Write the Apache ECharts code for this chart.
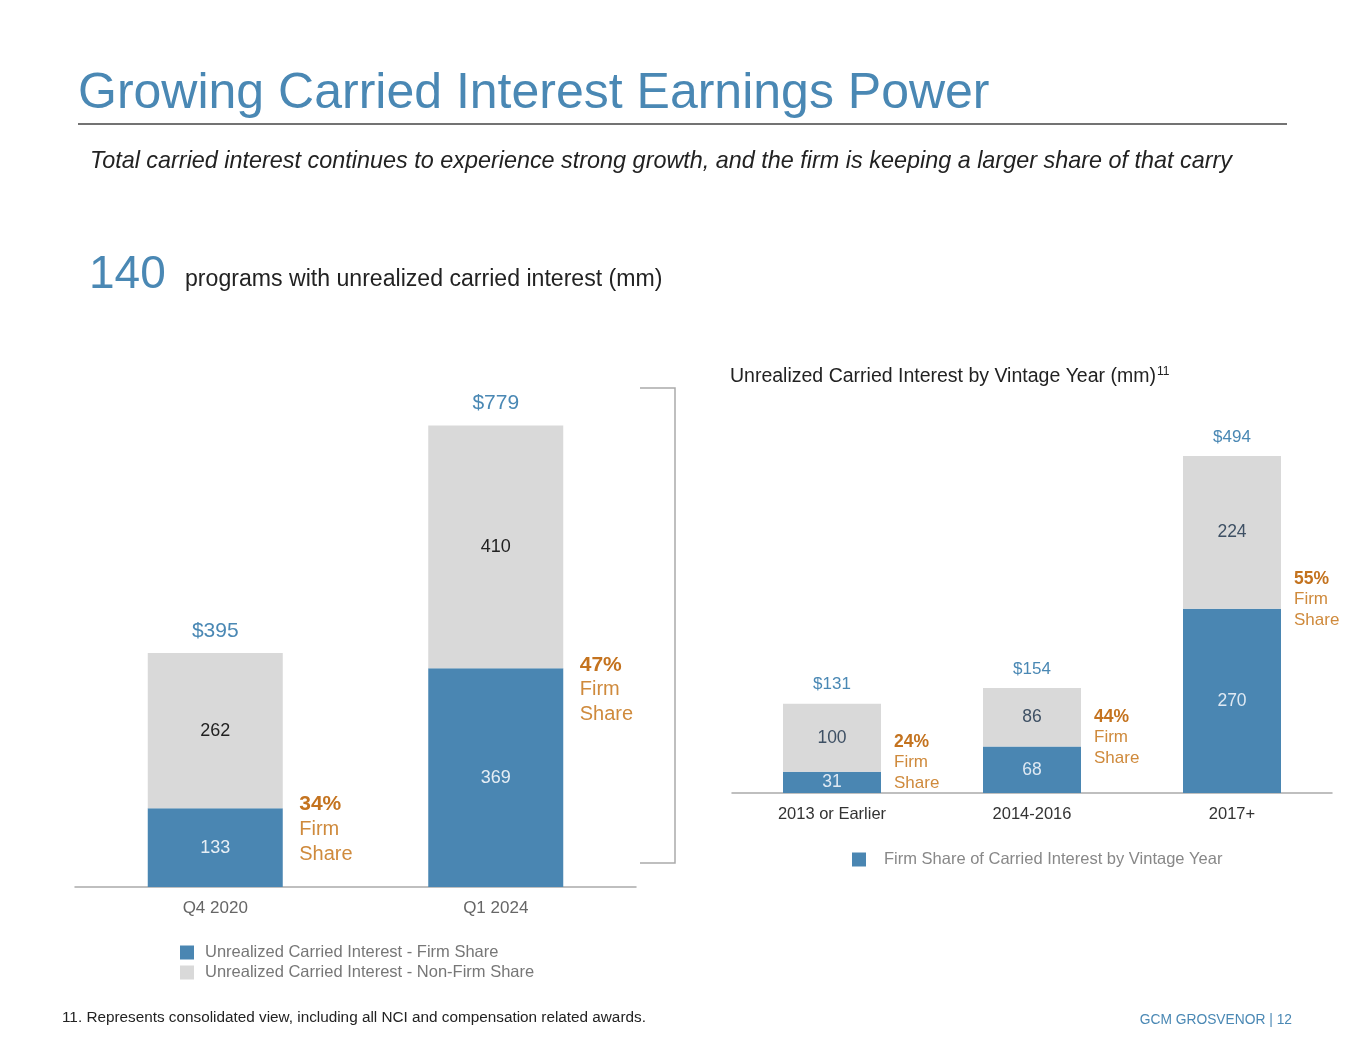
<!DOCTYPE html>
<html><head><meta charset="utf-8">
<script src="https://cdn.jsdelivr.net/npm/echarts@6/dist/echarts.min.js"></script>
<style>html,body{margin:0;padding:0;background:#fff}#c{width:1365px;height:1055px}</style>
</head><body><div id="c"></div>
<script>
// ---- data ----
var leftCategories = ['Q4 2020', 'Q1 2024'];
var leftFirm = [133, 369];
var leftNonFirm = [262, 410];
var leftTotals = [395, 779];
var leftPct = ['34%', '47%'];

var rightCategories = ['2013 or Earlier', '2014-2016', '2017+'];
var rightFirm = [31, 68, 270];
var rightNonFirm = [100, 86, 224];
var rightTotals = [131, 154, 494];
var rightPct = ['24%', '44%', '55%'];

var FONT = 'Liberation Sans';
var BLUE = '#4a86b2';
var GRAY = '#d9d9d9';
var TXTBLUE = '#4a88b4';
var ORANGE = '#c4731f';
var ORANGE_L = '#cf8a3c';

var chart = echarts.init(document.getElementById('c'), null, {renderer: 'canvas'});

var option = {
  animation: false,
  textStyle: {fontFamily: FONT},
  grid: [
    {left: 75, width: 561, top: 413, height: 474},
    {left: 732, width: 600, top: 452, height: 341}
  ],
  xAxis: [
    {type: 'category', gridIndex: 0, data: leftCategories,
     axisLine: {lineStyle: {color: '#aaaaaa', width: 1.5}}, axisTick: {show: false},
     axisLabel: {color: '#666', fontSize: 17, margin: 13, fontFamily: FONT}},
    {type: 'category', gridIndex: 1, data: rightCategories,
     axisLine: {lineStyle: {color: '#aaaaaa', width: 1.5}}, axisTick: {show: false},
     axisLabel: {color: '#333', fontSize: 16.5, margin: 13, fontFamily: FONT}}
  ],
  yAxis: [
    {type: 'value', gridIndex: 0, min: 0, max: 800, show: false, splitLine: {show: false}},
    {type: 'value', gridIndex: 1, min: 0, max: 500, show: false, splitLine: {show: false}}
  ],
  legend: [
    {orient: 'vertical', left: 175, top: 939, itemWidth: 14, itemHeight: 14, itemGap: 3,
     icon: 'rect', selectedMode: false,
     textStyle: {color: '#777', fontSize: 16.5, fontFamily: FONT, padding: [0, 0, 0, 6]},
     data: ['Unrealized Carried Interest - Firm Share', 'Unrealized Carried Interest - Non-Firm Share']},
    {orient: 'horizontal', left: 847, top: 846, itemWidth: 14, itemHeight: 14,
     icon: 'rect', selectedMode: false,
     textStyle: {color: '#888', fontSize: 16.5, fontFamily: FONT, padding: [0, 0, 0, 13]},
     data: ['Firm Share of Carried Interest by Vintage Year']}
  ],
  series: [
    {name: 'Unrealized Carried Interest - Firm Share', type: 'bar', stack: 'L',
     xAxisIndex: 0, yAxisIndex: 0, barWidth: 135, data: leftFirm,
     itemStyle: {color: BLUE},
     label: {show: true, position: 'inside', color: '#e6eef5', fontSize: 18, fontFamily: FONT}},
    {name: 'Unrealized Carried Interest - Non-Firm Share', type: 'bar', stack: 'L',
     xAxisIndex: 0, yAxisIndex: 0, barWidth: 135, data: leftNonFirm,
     itemStyle: {color: GRAY},
     label: {show: true, position: 'inside', color: '#222', fontSize: 18, fontFamily: FONT}},
    {name: 'Firm Share of Carried Interest by Vintage Year', type: 'bar', stack: 'R',
     xAxisIndex: 1, yAxisIndex: 1, barWidth: 98, data: rightFirm,
     itemStyle: {color: BLUE},
     label: {show: true, position: 'inside', color: '#dfe9f3', fontSize: 17.5, fontFamily: FONT}},
    {name: 'Non-Firm Share by Vintage Year', type: 'bar', stack: 'R',
     xAxisIndex: 1, yAxisIndex: 1, barWidth: 98, data: rightNonFirm,
     itemStyle: {color: GRAY},
     label: {show: true, position: 'inside', color: '#3e5064', fontSize: 17.5, fontFamily: FONT}}
  ]
};
chart.setOption(option);

// ---- annotations positioned via the chart's own scales ----
var g = [];
// page text
g.push({type: 'text', left: 78, top: 69, style: {text: 'Growing Carried Interest Earnings Power', font: '50px ' + FONT, fill: TXTBLUE}});
g.push({type: 'line', shape: {x1: 78, y1: 124, x2: 1287, y2: 124}, style: {stroke: '#444', lineWidth: 1.5}});
g.push({type: 'text', left: 90, top: 150, style: {text: 'Total carried interest continues to experience strong growth, and the firm is keeping a larger share of that carry', font: 'italic 23.4px ' + FONT, fill: '#222'}});
g.push({type: 'text', left: 89, top: 252, style: {text: '140', font: '46px ' + FONT, fill: TXTBLUE}});
g.push({type: 'text', left: 185, top: 268, style: {text: 'programs with unrealized carried interest (mm)', font: '23.1px ' + FONT, fill: '#222'}});
g.push({type: 'text', left: 730, top: 366, style: {
  text: '{a|Unrealized Carried Interest by Vintage Year (mm)}{s|11}',
  rich: {a: {fontSize: 19.5, fontFamily: FONT, fill: '#222'},
         s: {fontSize: 12, fontFamily: FONT, fill: '#222', verticalAlign: 'top', padding: [0, 0, 10, 1]}}}});
g.push({type: 'text', left: 62, top: 1010, style: {text: '11. Represents consolidated view, including all NCI and compensation related awards.', font: '15.3px ' + FONT, fill: '#222'}});
g.push({type: 'text', right: 73, top: 1013, style: {text: 'GCM GROSVENOR | 12', font: '13.8px ' + FONT, fill: TXTBLUE}});
// bracket
g.push({type: 'polyline', shape: {points: [[640, 388], [675, 388], [675, 863], [640, 863]]}, style: {stroke: '#aaaaaa', lineWidth: 1.5, fill: null}});

function addTotals(cats, totals, gridIndex, size, dy) {
  cats.forEach(function (c, i) {
    var p = chart.convertToPixel({gridIndex: gridIndex}, [i, totals[i]]);
    g.push({type: 'text', x: p[0], y: p[1] - dy, style: {text: '$' + totals[i], font: size + 'px ' + FONT, fill: TXTBLUE, align: 'center', verticalAlign: 'middle'}});
  });
}
function addPct(cats, firm, pct, gridIndex, dx, dyTop, bsize, size, lh) {
  cats.forEach(function (c, i) {
    var p = chart.convertToPixel({gridIndex: gridIndex}, [i, firm[i]]);
    g.push({type: 'text', x: p[0] + dx, y: p[1] - dyTop, style: {
      text: '{b|' + pct[i] + '}\n{n|Firm}\n{n|Share}', align: 'left', verticalAlign: 'top',
      rich: {b: {fontSize: bsize, fontWeight: 'bold', fontFamily: FONT, fill: ORANGE, lineHeight: lh},
             n: {fontSize: size, fontFamily: FONT, fill: ORANGE_L, lineHeight: lh}}}});
  });
}
addTotals(leftCategories, leftTotals, 0, 21, 22);
addTotals(rightCategories, rightTotals, 1, 17, 19);
addPct(leftCategories, leftFirm, leftPct, 0, 84, 16, 21, 20, 25);
addPct(rightCategories, rightFirm, rightPct, 1, 62, 40, 17.5, 17, 20.5);

chart.setOption({graphic: g});
</script></body></html>
